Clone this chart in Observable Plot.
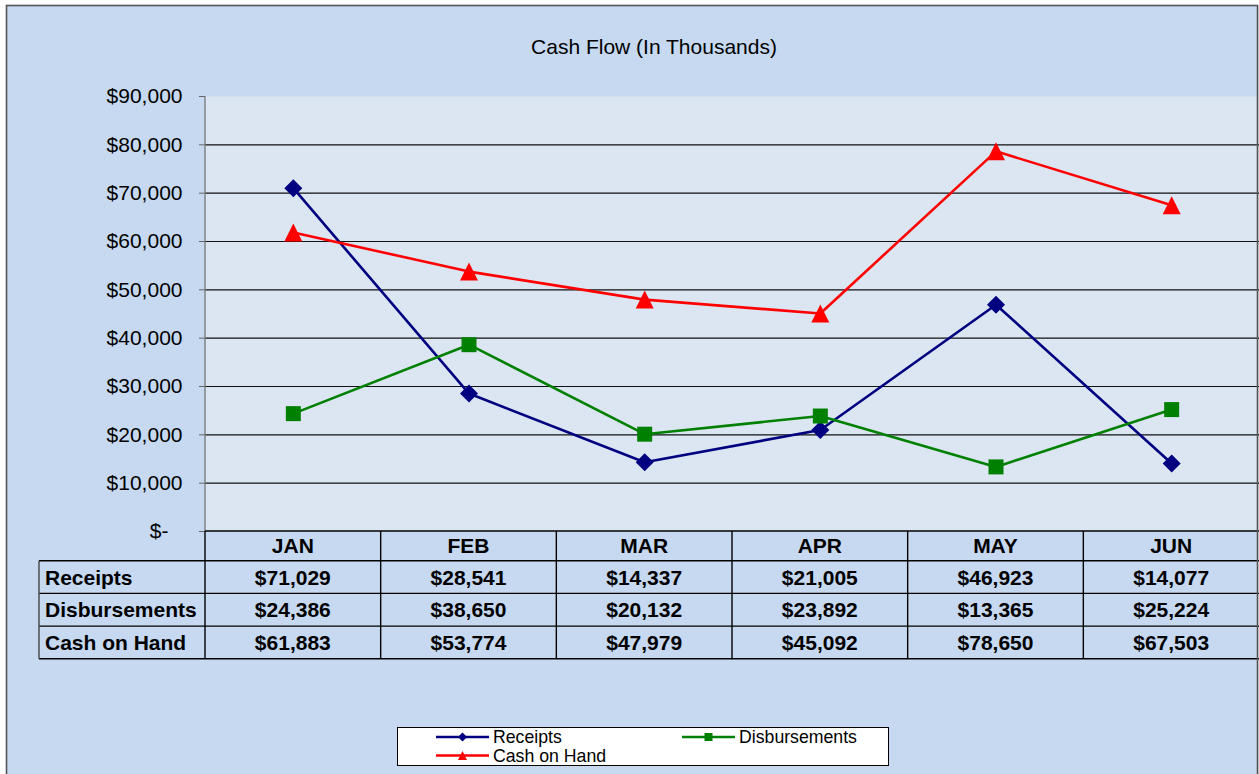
<!DOCTYPE html>
<html>
<head>
<meta charset="utf-8">
<script src="https://cdn.jsdelivr.net/npm/d3@7"></script>
<script src="https://cdn.jsdelivr.net/npm/@observablehq/plot@0.6"></script>
<style>
  html, body { margin: 0; padding: 0; background: #ffffff; }
  #chart { position: absolute; left: 0; top: 0; }
</style>
</head>
<body>
<div id="chart"></div>
<script>
const months = ["JAN", "FEB", "MAR", "APR", "MAY", "JUN"];
const receipts = [71029, 28541, 14337, 21005, 46923, 14077];
const disbursements = [24386, 38650, 20132, 23892, 13365, 25224];
const cashOnHand = [61883, 53774, 47979, 45092, 78650, 67503];
const seriesNames = ["Receipts", "Disbursements", "Cash on Hand"];
const seriesColors = ["#000080", "#008000", "#FF0000"];
const yTicks = [0, 10000, 20000, 30000, 40000, 50000, 60000, 70000, 80000, 90000];
const titleText = "Cash Flow (In Thousands)";

const seriesValues = [receipts, disbursements, cashOnHand];
const rows = seriesNames.map((name, i) => months.map((m, j) => ({series: name, month: m, value: seriesValues[i][j]})));

const FONT = "'Liberation Sans', Arial, Helvetica, sans-serif";

// custom marker shapes (size = PI*r^2 in Plot, so k = r)
const diamondSym = {draw(ctx, size) { const k = Math.sqrt(size / Math.PI); ctx.moveTo(0, -k); ctx.lineTo(k, 0); ctx.lineTo(0, k); ctx.lineTo(-k, 0); ctx.closePath(); }};
const squareSym = {draw(ctx, size) { const k = Math.sqrt(size / Math.PI); ctx.rect(-k, -k, 2 * k, 2 * k); }};
const triangleSym = {draw(ctx, size) { const k = Math.sqrt(size / Math.PI); ctx.moveTo(0, -k); ctx.lineTo(k, k); ctx.lineTo(-k, k); ctx.closePath(); }};
const symbols = [diamondSym, squareSym, triangleSym];
const symbolR = [9, 7.5, 9];

const fmtMoney = d => "$" + d3.format(",")(d);

const chart = Plot.plot({
  width: 1259,
  height: 774,
  marginTop: 96,
  marginBottom: 243,
  marginLeft: 205,
  marginRight: 0,
  style: {background: "transparent", fontFamily: FONT, fontSize: "21px", color: "#000", overflow: "visible"},
  x: {type: "point", domain: months, padding: 0.5, round: false, axis: null},
  y: {domain: [0, 90000], axis: null},
  marks: [
    Plot.frame({fill: "#DCE6F2", stroke: "none"}),
    Plot.gridY(yTicks.filter(d => d > 0 && d < 90000), {stroke: "#111", strokeOpacity: 1, strokeWidth: 1.1}),
    Plot.axisY({ticks: yTicks, tickSize: 6, tickPadding: 17, tickFormat: d => d === 0 ? "$-" : fmtMoney(d), fontSize: 21, stroke: "#666", label: null}),
    ...rows.map((r, i) => Plot.line(r, {x: "month", y: "value", stroke: seriesColors[i], strokeWidth: 2.6})),
    ...rows.map((r, i) => Plot.dot(r, {x: "month", y: "value", symbol: symbols[i], r: symbolR[i], fill: seriesColors[i], stroke: "none"}))
  ]
});

const svgEl = chart.tagName.toLowerCase() === "svg" ? chart : chart.querySelector("svg");
const svg = d3.select(svgEl);
svg.insert("rect", ":first-child")
  .attr("x", 6.5).attr("y", 5.5).attr("width", 1252).attr("height", 780)
  .attr("fill", "#C6D9F0");

// shift "$-" label like Excel accounting format
svg.selectAll("text").filter(function() { return this.textContent === "$-"; }).attr("dx", -14);

const xs = chart.scale("x");
const ys = chart.scale("y");
const step = xs.apply(months[1]) - xs.apply(months[0]);
const left = xs.apply(months[0]) - step / 2;
const right = xs.apply(months[months.length - 1]) + step / 2;
const y0 = ys.apply(0);
const yTop = ys.apply(90000);

const g = svg.append("g").attr("font-family", FONT).attr("text-anchor", "start");

// y axis line
g.append("line").attr("x1", left).attr("x2", left).attr("y1", yTop).attr("y2", y0)
  .attr("stroke", "#777").attr("stroke-width", 1.3);

// data table
const headerH = 29.7, rowH = 32.7, labelLeft = 39;
const rowY = [y0, y0 + headerH];
for (let i = 1; i <= seriesNames.length; i++) rowY.push(y0 + headerH + i * rowH);
const tBottom = rowY[rowY.length - 1];
const tl = g.append("g").attr("stroke", "#000").attr("stroke-width", 1.4);
tl.append("line").attr("x1", left).attr("x2", right).attr("y1", y0).attr("y2", y0);
for (let i = 1; i < rowY.length; i++) {
  tl.append("line").attr("x1", labelLeft).attr("x2", right).attr("y1", rowY[i]).attr("y2", rowY[i]);
}
tl.append("line").attr("x1", labelLeft).attr("x2", labelLeft).attr("y1", rowY[1]).attr("y2", tBottom).attr("stroke", "#444");
tl.append("line").attr("x1", left).attr("x2", left).attr("y1", y0).attr("y2", tBottom);
months.forEach((m, j) => {
  if (j === 0) return;
  const xb = xs.apply(m) - step / 2;
  tl.append("line").attr("x1", xb).attr("x2", xb).attr("y1", y0).attr("y2", tBottom);
});
months.forEach(m => {
  g.append("text").attr("x", xs.apply(m)).attr("y", (rowY[0] + rowY[1]) / 2).attr("dy", "0.36em")
    .attr("text-anchor", "middle").attr("font-size", 21).attr("font-weight", "bold").text(m);
});
seriesNames.forEach((name, i) => {
  const cy = (rowY[i + 1] + rowY[i + 2]) / 2;
  g.append("text").attr("x", labelLeft + 6).attr("y", cy).attr("dy", "0.36em")
    .attr("text-anchor", "start").attr("font-size", 21).attr("font-weight", "bold").text(name);
  months.forEach((m, j) => {
    g.append("text").attr("x", xs.apply(m)).attr("y", cy).attr("dy", "0.36em")
      .attr("text-anchor", "middle").attr("font-size", 21).attr("font-weight", "bold")
      .text(fmtMoney(seriesValues[i][j]));
  });
});

// title
g.append("text").attr("x", 654).attr("y", 46).attr("dy", "0.36em").attr("text-anchor", "middle")
  .attr("font-size", 21).text(titleText);

// legend
const lg = g.append("g");
lg.append("rect").attr("x", 397.5).attr("y", 727.5).attr("width", 491).attr("height", 38)
  .attr("fill", "#fff").attr("stroke", "#000").attr("stroke-width", 1);
const legendPos = [[436, 737], [682, 737], [436, 755.5]];
const legendShape = [
  (sel, cx, cy) => sel.append("path").attr("d", `M${cx},${cy - 4.5}L${cx + 4.5},${cy}L${cx},${cy + 4.5}L${cx - 4.5},${cy}Z`),
  (sel, cx, cy) => sel.append("rect").attr("x", cx - 4).attr("y", cy - 4).attr("width", 8).attr("height", 8),
  (sel, cx, cy) => sel.append("path").attr("d", `M${cx},${cy - 4.5}L${cx + 4.5},${cy + 4.5}L${cx - 4.5},${cy + 4.5}Z`)
];
seriesNames.forEach((name, i) => {
  const [lx, ly] = legendPos[i];
  lg.append("line").attr("x1", lx).attr("x2", lx + 53).attr("y1", ly).attr("y2", ly)
    .attr("stroke", seriesColors[i]).attr("stroke-width", 2.6);
  legendShape[i](lg, lx + 26.5, ly).attr("fill", seriesColors[i]);
  lg.append("text").attr("x", lx + 57).attr("y", ly).attr("dy", "0.36em")
    .attr("text-anchor", "start").attr("font-size", 17.7).text(name);
});

// outer border
svg.append("rect").attr("x", 6.5).attr("y", 5.5).attr("width", 1251).attr("height", 780)
  .attr("fill", "none").attr("stroke", "#555").attr("stroke-width", 1.6);

document.getElementById("chart").appendChild(chart);
</script>
</body>
</html>
